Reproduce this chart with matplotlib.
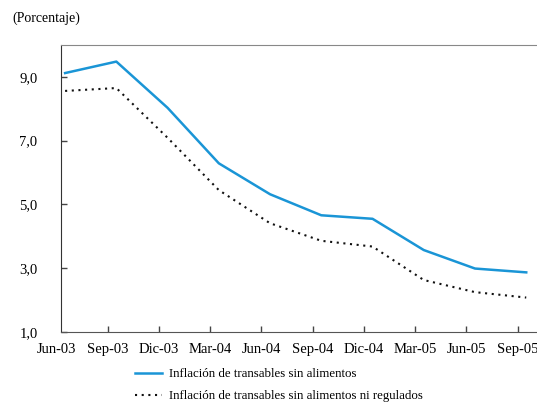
import numpy as np
import matplotlib.pyplot as plt

plt.rcParams['font.family'] = ['Liberation Serif', 'DejaVu Serif']

trimestres = ["Jun-03", "Sep-03", "Dic-03", "Mar-04", "Jun-04",
              "Sep-04", "Dic-04", "Mar-05", "Jun-05", "Sep-05"]
sin_alimentos = [9.12, 9.48, 8.03, 6.29, 5.32, 4.66, 4.55, 3.57, 2.99, 2.87]
sin_alim_ni_reg = [8.56, 8.65, 7.09, 5.45, 4.41, 3.86, 3.68, 2.63, 2.25, 2.08]
yticks = [1.0, 3.0, 5.0, 7.0, 9.0]
ytick_labels = ["1,0", "3,0", "5,0", "7,0", "9,0"]

fig = plt.figure(figsize=(5.37, 4.05), dpi=100)
ax = fig.add_axes([61/537, 73/405, 1 - 61/537, (332 - 45)/405])

pos = np.arange(len(trimestres))
# data sit a bit to the right of the quarter tick
xd = pos + 0.17

ax.plot(xd, sin_alimentos, color="#1a95d6", lw=1.8,
        label="Inflación de transables sin alimentos")
ax.plot(xd, sin_alim_ni_reg, color="#111111", lw=1.5, ls=(0, (1, 2.2)),
        label="Inflación de transables sin alimentos ni regulados")

ax.set_xlim(0.09, 9.38)
ax.set_ylim(1, 10)

ax.set_xticks(pos[1:])
ax.set_xticklabels([])
for p, t in zip(pos, trimestres):
    ax.text(p, -0.04, t, transform=ax.get_xaxis_transform(),
            ha="center", va="top", fontsize=10.5, clip_on=False)

ax.set_yticks(yticks)
ax.set_yticklabels(ytick_labels, fontsize=10.5)
ax.tick_params(axis="both", direction="in", length=4, width=1, colors="#444444",
               labelcolor="black")
ax.tick_params(axis="y", pad=30)
for lbl in ax.get_yticklabels():
    lbl.set_horizontalalignment("left")

ax.spines["right"].set_visible(False)
ax.spines["top"].set_color("#888888")
ax.spines["left"].set_color("#333333")
ax.spines["bottom"].set_color("#555555")

fig.text(12/537, 1 - 18/405, "(Porcentaje)", fontsize=10, ha="left", va="center")

fig.legend(loc="upper left", bbox_to_anchor=(135/537, 1 - 368/405),
           frameon=False, fontsize=9.3, handlelength=2.1, handletextpad=0.55,
           labelspacing=0.8, borderpad=0, borderaxespad=0)

fig.savefig("out.png", dpi=100)
